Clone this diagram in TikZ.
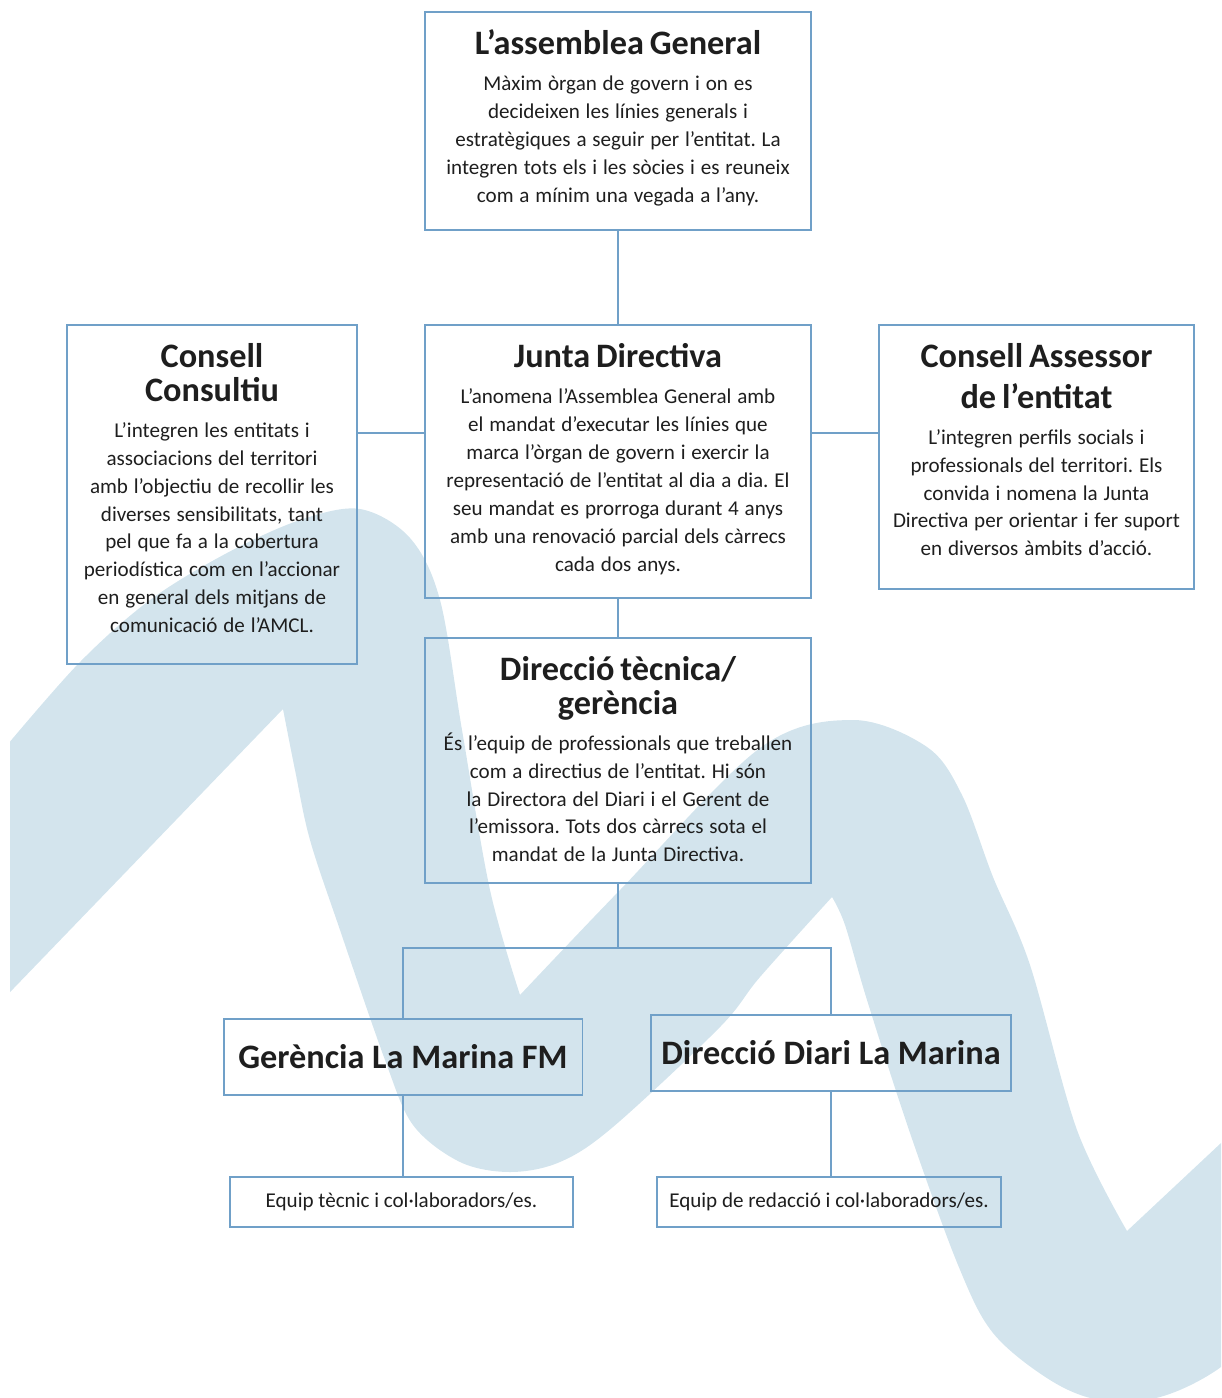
\documentclass[tikz,border=0pt]{standalone}
\usepackage{fontspec}
\setmainfont{Carlito}
\usepackage{tikz}
\usetikzlibrary{positioning,calc}
\definecolor{linecol}{RGB}{112,160,200}
\definecolor{wavecol}{RGB}{211,228,237}
\definecolor{txtcol}{RGB}{30,30,30}
\newcommand{\boxtitle}{\fontsize{19.5}{19.5}\selectfont\bfseries}
\newcommand{\boxbody}{\par\vspace{4.5pt}\fontsize{12}{15.9}\selectfont\mdseries}
\newcommand{\boxend}[1]{\par\vspace{#1}}
\frenchspacing

\begin{document}
\begin{tikzpicture}[x=0.02cm,y=-0.02cm,
		orgbox/.style={draw=linecol,line width=1.1pt,align=center,inner sep=0pt,text=txtcol},
		conn/.style={-,draw=linecol,line width=1pt}]
			\useasboundingbox (0,0) rectangle (1221,1398);
			
			% the wave behind the chart
			\begin{scope}
			\clip (10,0) rectangle (1221,1398);
			\fill[wavecol] (-40,800) -- (8,744)
				-- plot[smooth,tension=0.55] coordinates {(8,744) (80,662) (150,600) (227,553) (300,520) (360,509) (410,538) (440,600) (462,730) (490,890) (520,995)}
				-- plot[smooth,tension=0.55] coordinates {(520,995) (620,890) (760,748) (853,720) (927,747) (962,795) (993,877) (1030,965) (1077,1130) (1127,1231)}
				-- (1221,1143) -- (1280,1088) -- (1280,1310)
				-- plot[smooth,tension=0.55] coordinates {(1280,1310) (1221,1367) (1160,1397) (1100,1400) (1050,1380) (993,1333) (958,1265) (910,1133) (867,1000) (845,925) (832,897)}
				-- plot[smooth,tension=0.55] coordinates {(832,897) (760,977) (720,1027) (613,1127) (560,1162) (510,1172) (460,1162) (413,1125) (385,1060) (340,930) (310,840) (295,770) (283,709)}
				-- (-40,1044) -- cycle;
			\end{scope}
			
			\node[orgbox,text width=7.5cm,minimum width=7.72cm,minimum height=4.36cm] (ag) at (618,121) {\boxtitle L’assemblea General\boxbody Màxim òrgan de govern i on es\\ decideixen les línies generals i\\ estratègiques a seguir per l’entitat. La\\ integren tots els i les sòcies i es reuneix\\ com a mínim una vegada a l’any.\boxend{3.4pt}};
			\node[orgbox,text width=5.6cm,minimum width=5.8cm,minimum height=6.78cm] (cc) at (212,494.5) {\boxtitle Consell\\ Consultiu\boxbody L’integren les entitats i\\ associacions del territori\\ amb l’objectiu de recollir les\\ diverses sensibilitats, tant\\ pel que fa a la cobertura\\ periodística com en l’accionar\\ en general dels mitjans de\\ comunicació de l’AMCL.\boxend{7.4pt}};
			\node[orgbox,text width=7.5cm,minimum width=7.72cm,minimum height=5.46cm] (jd) at (618,461.5) {\boxtitle Junta Directiva\boxbody L’anomena l’Assemblea General amb\\ el mandat d’executar les línies que\\ marca l’òrgan de govern i exercir la\\ representació de l’entitat al dia a dia. El\\ seu mandat es prorroga durant 4 anys\\ amb una renovació parcial dels càrrecs\\ cada dos anys.\boxend{2.8pt}};
			\node[orgbox,text width=6.1cm,minimum width=6.3cm,minimum height=5.28cm] (ca) at (1036.5,457) {\boxtitle Consell Assessor\\[4pt] de l’entitat\boxbody L’integren perfils socials i\\ professionals del territori. Els\\ convida i nomena la Junta\\ Directiva per orientar i fer suport\\ en diversos àmbits d’acció.\boxend{8.5pt}};
			\node[orgbox,text width=7.5cm,minimum width=7.72cm,minimum height=4.9cm] (dt) at (618,760.5) {\boxtitle Direcció tècnica/\\ gerència\boxbody És l’equip de professionals que treballen\\ com a directius de l’entitat. Hi són\\ la Directora del Diari i el Gerent de\\ l’emissora. Tots dos càrrecs sota el\\ mandat de la Junta Directiva.\boxend{1.7pt}};
			
			\node[orgbox,font=\boxtitle,minimum width=7.18cm,minimum height=1.52cm] (gm) at (403,1057) {Gerència La Marina FM};
			\node[orgbox,font=\boxtitle,minimum width=7.2cm,minimum height=1.52cm] (dd) at (831,1053) {Direcció Diari La Marina};
			\node[orgbox,font=\fontsize{12}{15.9}\selectfont,minimum width=6.86cm,minimum height=1cm] (et) at (401.5,1202) {Equip tècnic i col·laboradors/es.};
			\node[orgbox,font=\fontsize{12}{15.9}\selectfont,minimum width=6.88cm,minimum height=1cm] (er) at (829,1202) {Equip de redacció i col·laboradors/es.};
			
			\coordinate (side) at (618,433);
			\coordinate (fork) at (618,948);
			\path[conn](ag) edge (jd);
			\path[conn](cc.east |- side) edge (jd.west |- side);
			\path[conn](jd.east |- side) edge (ca.west |- side);
			\path[conn](jd) edge (dt);
			\path[conn](dt) edge (fork);
			\draw[conn](fork) -| (gm);
			\draw[conn](fork) -| (dd);
			\path[conn](gm) edge (gm |- et.north);
			\path[conn](dd) edge (dd |- er.north);
			\end{tikzpicture}
\end{document}
